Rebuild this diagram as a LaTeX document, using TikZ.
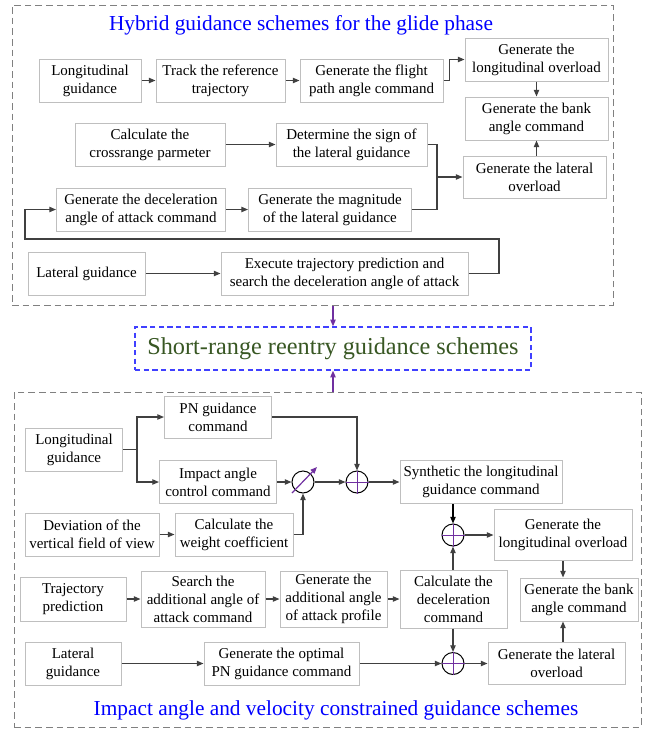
\documentclass[tikz,border=0pt]{standalone}
\usepackage{fontspec}
\setmainfont{Liberation Serif}
\usetikzlibrary{arrows.meta}
\definecolor{boxgray}{RGB}{191,191,191}
\definecolor{linegray}{RGB}{64,64,64}
\definecolor{dashgray}{RGB}{128,128,128}
\definecolor{titleblue}{RGB}{0,0,255}
\definecolor{midgreen}{RGB}{56,87,35}
\definecolor{midblue}{RGB}{64,64,255}
\definecolor{sumpurple}{RGB}{112,48,160}
\tikzset{
  box/.style={draw=boxgray, line width=0.75pt, align=center, inner sep=0pt, font=\fontsize{11.25pt}{13.5pt}\selectfont},
  sz/.style 2 args={minimum width=#1*0.75pt, minimum height=#2*0.75pt},
  sumc/.style={circle, draw=black, line width=0.75pt, minimum size=16.5pt, inner sep=0pt},
  outer/.style={draw=dashgray, line width=0.75pt, dash pattern=on 5pt off 3pt, inner sep=0pt},
  ttl/.style={text=titleblue, font=\fontsize{16pt}{19pt}\selectfont},
  wire/.style={draw=linegray, line width=0.9pt},
  conn/.style={wire, -{Triangle[length=5pt,width=4pt]}},
  cross/.style={draw=sumpurple, line width=0.6pt}
}

\begin{document}
\begin{tikzpicture}[x=0.75pt, y=-0.75pt]
\useasboundingbox (0,0) rectangle (645,729);

\node[outer, sz={601}{300}] (upper) at (312.5,155) {};
\node[outer, sz={627}{335}] (lower) at (327.5,559.5) {};

\node[ttl] (ttlA) at (301,25) {Hybrid guidance schemes for the glide phase};

\node[box, sz={102}{43}] (lgA) at (90,80.5) {Longitudinal\\guidance};
\node[box, sz={129}{43}] (trk) at (220.5,80.5) {Track the reference\\trajectory};
\node[box, sz={143}{43}] (fpa) at (371.5,80.5) {Generate the flight\\path angle command};
\node[box, sz={143}{43}] (lonA) at (536.5,59.5) {Generate the\\longitudinal overload};
\node[box, sz={143}{43}] (bnkA) at (536.5,118.5) {Generate the bank\\angle command};
\node[box, sz={143}{42}] (latA) at (534.5,177) {Generate the lateral\\overload};
\node[box, sz={150}{43}] (crs) at (150,144.5) {Calculate the\\crossrange parmeter};
\node[box, sz={151}{43}] (sgn) at (351.5,144.5) {Determine the sign of\\the lateral guidance};
\node[box, sz={169}{43}] (dec) at (141,209.5) {Generate the deceleration\\angle of attack command};
\node[box, sz={163}{43}] (mag) at (330,209.5) {Generate the magnitude\\of the lateral guidance};
\node[box, sz={117}{43}] (lgB) at (86.5,273.5) {Lateral guidance};
\node[box, sz={247}{43}] (exe) at (344.5,273.5) {Execute trajectory prediction and\\search the deceleration angle of attack};

\coordinate (mrg) at (437,177);
\coordinate (lpR) at (499,239);
\coordinate (lpL) at (25,239);

\draw[conn] (lgA) -- (trk);
\draw[conn] (trk) -- (fpa);
\draw[conn] (fpa.east) -- ++(6,0) |- (lonA.west);
\draw[conn] (lonA) -- (bnkA);
\draw[conn] (latA.north -| bnkA.south) -- (bnkA.south);
\draw[conn] (crs) -- (sgn);
\draw[wire] (sgn.east) -| (mrg) |- (mag.east);
\draw[conn] (mrg) -- (latA.west);
\draw[conn] (dec) -- (mag);
\draw[conn] (lgB) -- (exe);
\draw[conn] (exe.east) -| (lpR) -- (lpL) |- (dec.west);

\node[box, draw=midblue, line width=1pt, dash pattern=on 4pt off 2.5pt, text=midgreen, font=\fontsize{18.2pt}{22pt}\selectfont, sz={396}{43}] (mid) at (333,348.5) {Short-range reentry guidance schemes};
\draw[conn, draw=sumpurple] (upper.south -| mid.north) -- (mid.north);
\draw[conn, draw=sumpurple] (lower.north -| mid.south) -- (mid.south);

\node[box, sz={97}{43}] (lgC) at (74,449.5) {Longitudinal\\guidance};
\node[box, sz={107}{42}] (pn) at (218,417) {PN guidance\\command};
\node[box, sz={117}{43}] (iac) at (218,482) {Impact angle\\control command};
\node[sumc] (mul) at (303,482) {};
\node[sumc] (sm1) at (357,482) {};
\node[box, sz={162}{43}] (syn) at (481,482) {Synthetic the longitudinal\\guidance command};
\node[box, sz={134}{43}] (dev) at (92,534.5) {Deviation of the\\vertical field of view};
\node[box, sz={118}{43}] (wgt) at (234,534.5) {Calculate the\\weight coefficient};
\node[sumc] (sm2) at (453,535) {};
\node[box, sz={138}{51}] (lonB) at (563,535) {Generate the\\longitudinal overload};
\node[box, sz={118}{43}] (bnkB) at (579,599.5) {Generate the bank\\angle command};
\node[box, sz={106}{44}] (trj) at (73,599) {Trajectory\\prediction};
\node[box, sz={124}{56}] (srh) at (203,599) {Search the\\additional angle of\\attack command};
\node[box, sz={107}{56}] (aap) at (333.5,599) {Generate the\\additional angle\\of attack profile};
\node[box, sz={107}{58}] (cdc) at (453.5,599) {Calculate the\\deceleration\\command};
\node[box, sz={96}{43}] (lgD) at (73,663.5) {Lateral\\guidance};
\node[box, sz={155}{43}] (opn) at (281.5,663.5) {Generate the optimal\\PN guidance command};
\node[sumc] (sm3) at (453,663.5) {};
\node[box, sz={137}{42}] (latB) at (556.5,663.5) {Generate the lateral\\overload};

\node[ttl] (ttlB) at (336,710) {Impact angle and velocity constrained guidance schemes};

\foreach \s in {sm1,sm2,sm3}
  \draw[cross] (\s.north) -- (\s.south) (\s.west) -- (\s.east);
\draw[draw=sumpurple, line width=0.9pt, -{Triangle[length=5pt,width=4pt]}] ([shift={(-11,11)}]mul.center) -- ([shift={(14,-15)}]mul.center);

\coordinate (br) at (137,449.5);
\draw[wire] (lgC) -- (br);
\draw[conn] (br) |- (pn.west);
\draw[conn] (br) |- (iac.west);
\draw[conn] (pn.east) -| (sm1.north);
\draw[conn] (iac) -- (mul);
\draw[conn] (mul) -- (sm1);
\draw[conn] (sm1) -- (syn);
\draw[conn] (dev) -- (wgt);
\draw[conn] (wgt.east) -| (mul.south);
\draw[conn, draw=black] (syn.south -| sm2.north) -- (sm2.north);
\draw[conn] (sm2) -- (lonB);
\draw[conn] (lonB.south) -- (lonB.south |- bnkB.north);
\draw[conn] (lonB.south |- latB.north) -- (lonB.south |- bnkB.south);
\draw[conn] (trj) -- (srh);
\draw[conn] (srh) -- (aap);
\draw[conn] (aap) -- (cdc);
\draw[conn] (cdc.north -| sm2.south) -- (sm2.south);
\draw[conn] (cdc.south -| sm3.north) -- (sm3.north);
\draw[conn] (lgD) -- (opn);
\draw[conn] (opn) -- (sm3);
\draw[conn] (sm3) -- (latB);
\end{tikzpicture}
\end{document}
